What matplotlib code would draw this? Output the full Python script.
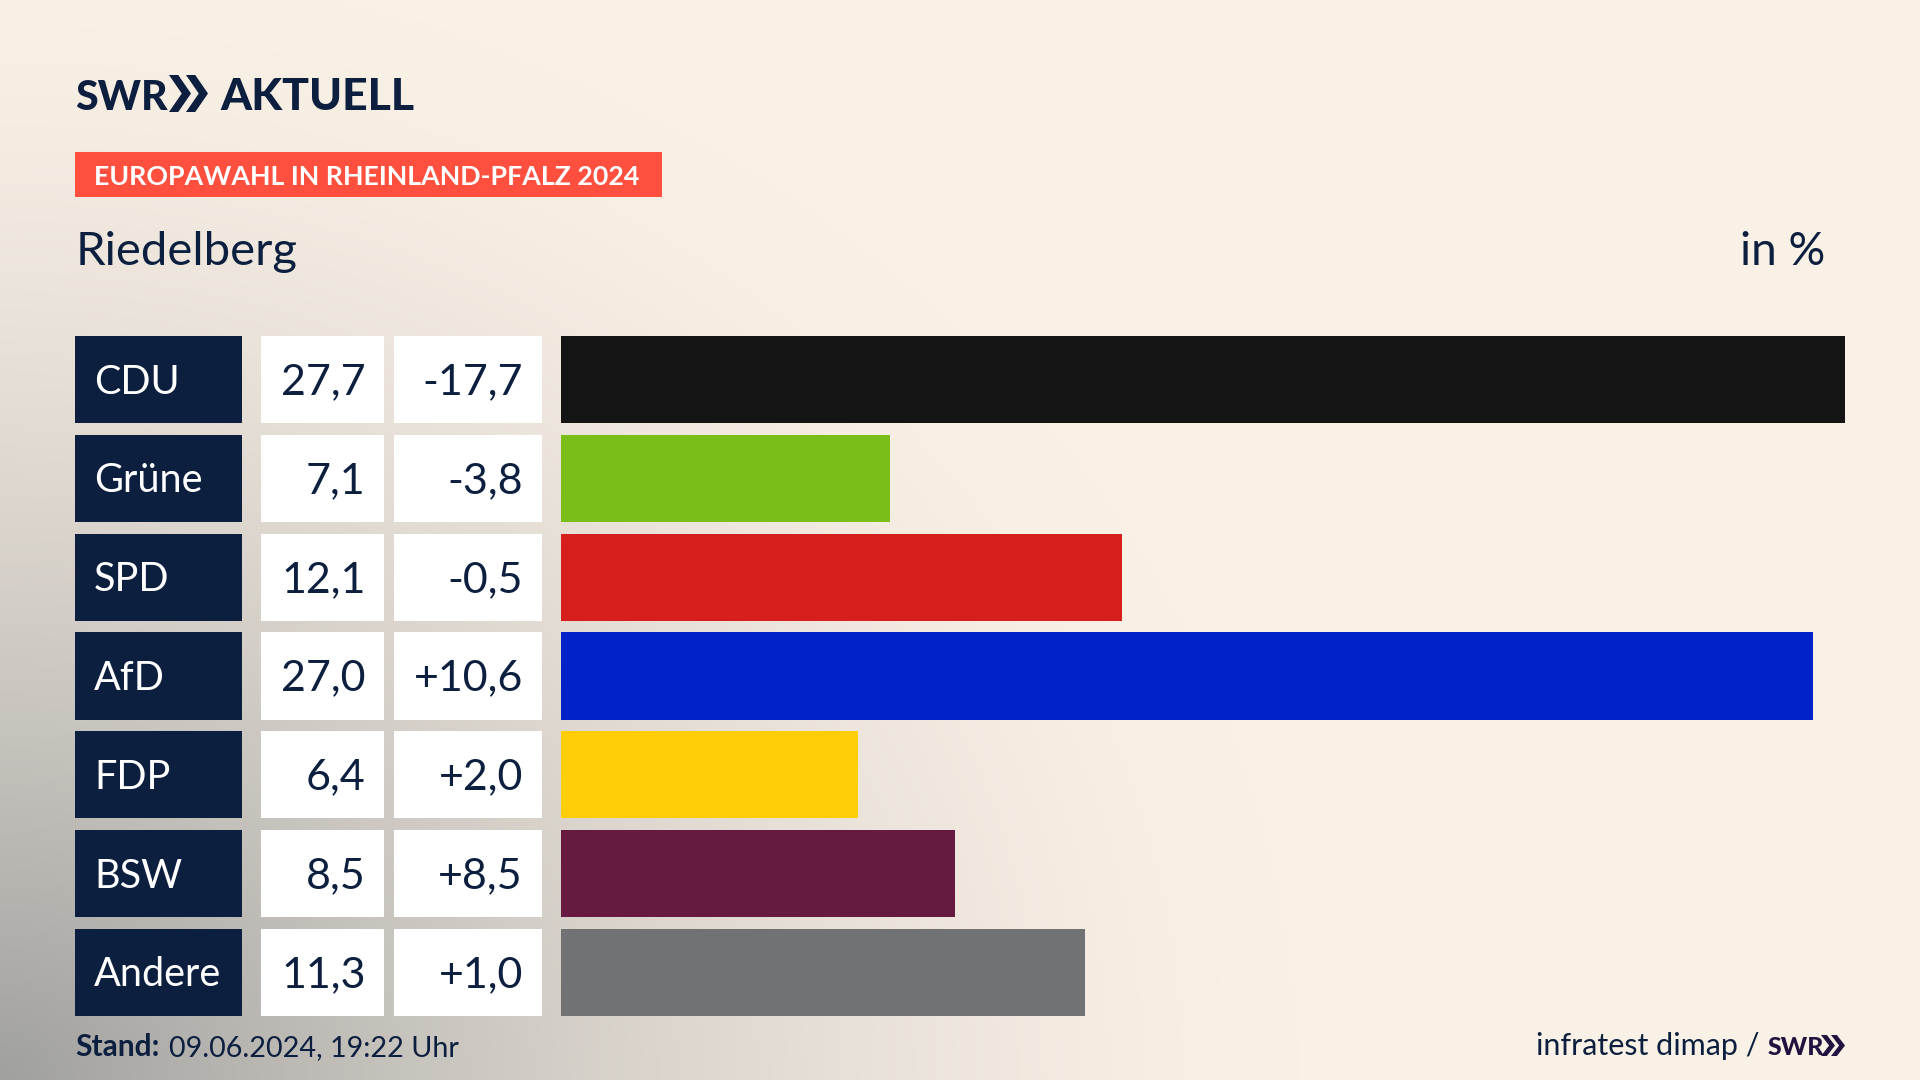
#!/usr/bin/env python3
"""SWR Aktuell: Europawahl result bars for Riedelberg."""

import matplotlib

matplotlib.use("Agg")
import matplotlib.pyplot as plt
import numpy as np
from matplotlib.patches import Polygon

PARTIES = ["CDU", "Grüne", "SPD", "AfD", "FDP", "BSW", "Andere"]
SHARES = [27.7, 7.1, 12.1, 27.0, 6.4, 8.5, 11.3]
CHANGES = [-17.7, -3.8, -0.5, 10.6, 2.0, 8.5, 1.0]
BAR_COLORS = ["#141414", "#7BBE1A", "#D61F1C", "#0022C8", "#FFCE08", "#661A3F", "#707273"]

NAVY = "#0C1F3F"
CREAM = np.array([250, 241, 230]) / 255
SHADE = np.array([160, 160, 158]) / 255
FONT = "Lato"

W, H = 1920, 1080


def comma(value, signed=False):
    text = f"{value:+.1f}" if signed else f"{value:.1f}"
    return text.replace(".", ",")


def draw_background(ax):
    yy, xx = np.mgrid[0:H, 0:W]
    dist = np.hypot(xx / 1300, (H - yy) / 1120)
    amount = np.clip(1 - dist, 0, 1) ** 1.5
    amount = amount[..., None]
    ax.imshow(CREAM * (1 - amount) + SHADE * amount, extent=(0, W, H, 0), aspect="auto", zorder=0)


def chevrons(ax, x, top, bottom, width, gap, color):
    mid = (top + bottom) / 2
    thick = width * 0.42
    for k in range(2):
        left = x + k * gap
        ax.add_patch(
            Polygon(
                [
                    (left, top),
                    (left + thick, top),
                    (left + width, mid),
                    (left + thick, bottom),
                    (left, bottom),
                    (left + width - thick, mid),
                ],
                closed=True,
                facecolor=color,
                edgecolor="none",
                zorder=3,
            )
        )


fig = plt.figure(figsize=(W / 100, H / 100), dpi=100)

# page layer in pixel coordinates
page = fig.add_axes([0, 0, 1, 1])
draw_background(page)
page.set_xlim(0, W)
page.set_ylim(H, 0)
page.axis("off")

page.text(75, 110, "SWR", fontfamily=FONT, fontweight="black", fontsize=29.5, color=NAVY, va="baseline")
chevrons(page, 169, 75, 112, 22, 17, NAVY)
page.text(220, 110, "AKTUELL", fontfamily=FONT, fontweight="black", fontsize=32, color=NAVY, va="baseline")

page.fill_between([75, 662], 152, 197, color="#FF4F3E", linewidth=0, zorder=2)
page.text(94, 175, "EUROPAWAHL IN RHEINLAND-PFALZ 2024", fontfamily=FONT, fontweight="bold",
          fontsize=19.3, color="white", va="center_baseline", zorder=3)

page.text(76, 265, "Riedelberg", fontfamily=FONT, fontsize=34, color=NAVY, va="baseline")
page.text(1825, 265, "in %", fontfamily=FONT, fontsize=33, color=NAVY, ha="right", va="baseline")

page.text(75, 1056, "Stand:", fontfamily=FONT, fontweight="bold", fontsize=21.5, color=NAVY, va="baseline")
page.text(169, 1056, "09.06.2024, 19:22 Uhr", fontfamily=FONT, fontsize=20.7, color=NAVY, va="baseline")
page.text(1760, 1055, "infratest dimap /", fontfamily=FONT, fontsize=22, color=NAVY, ha="right", va="baseline")
page.text(1768, 1055, "SWR", fontfamily=FONT, fontweight="black", fontsize=18, color="#21123F", va="baseline")
chevrons(page, 1821, 1035, 1056, 14, 10, "#21123F")

# rows share one y scale
rows = np.arange(len(PARTIES))
bar_h = 0.885
row_lim = (len(PARTIES) - 1 + bar_h / 2, -bar_h / 2)
top_px, bottom_px = 336, 1016
rect_y = 1 - bottom_px / H
rect_h = (bottom_px - top_px) / H

table = fig.add_axes([75 / W, rect_y, (542 - 75) / W, rect_h])
table.patch.set_alpha(0)
table.set_xlim(75, 542)
table.set_ylim(*row_lim)
table.axis("off")
table.barh(rows, 167, left=75, height=bar_h, color=NAVY)
table.barh(rows, 123, left=261, height=bar_h, color="white")
table.barh(rows, 148, left=394, height=bar_h, color="white")
for i, party in enumerate(PARTIES):
    table.text(94, i - 0.01, party, fontfamily=FONT, fontsize=28.5, color="white", va="center_baseline")
    table.text(365.5, i - 0.01, comma(SHARES[i]), fontfamily=FONT, fontsize=31, color=NAVY,
               ha="right", va="center_baseline")
    table.text(523, i - 0.01, comma(CHANGES[i], signed=True), fontfamily=FONT, fontsize=31, color=NAVY,
               ha="right", va="center_baseline")

bars = fig.add_axes([561 / W, rect_y, (1845 - 561) / W, rect_h])
bars.patch.set_alpha(0)
bars.barh(rows, SHARES, height=bar_h, color=BAR_COLORS)
bars.set_xlim(0, max(SHARES))
bars.set_ylim(*row_lim)
bars.axis("off")

fig.savefig("out.png", dpi=100)
